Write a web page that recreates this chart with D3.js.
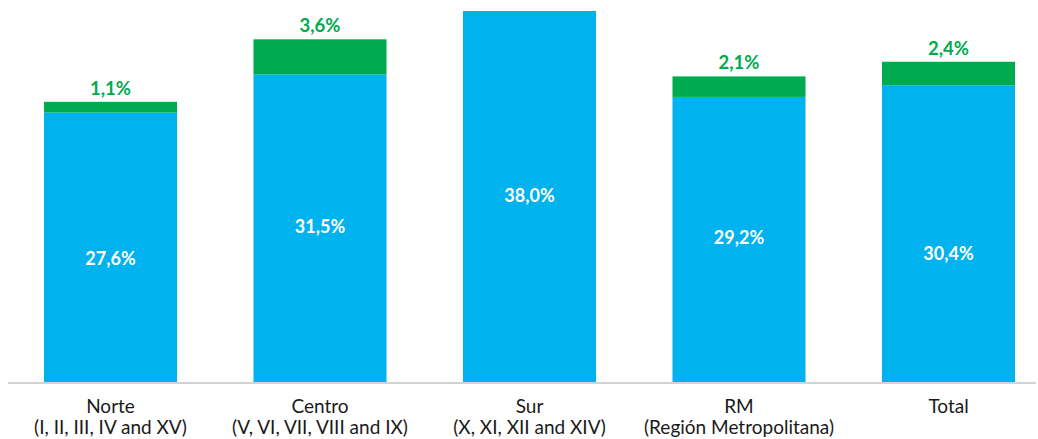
<!DOCTYPE html>
<html>
<head>
<meta charset="utf-8">
<script src="https://cdn.jsdelivr.net/npm/d3@7/dist/d3.min.js"></script>
<style>
  html, body { margin: 0; padding: 0; background: #fff; }
  svg { display: block; }
</style>
</head>
<body>
<svg id="chart" width="1038" height="439"></svg>
<script>
// ---- data ----
const categories = ["Norte", "Centro", "Sur", "RM", "Total"];
const subLabels = ["(I, II, III, IV and XV)", "(V, VI, VII, VIII and IX)", "(X, XI, XII and XIV)", "(Región Metropolitana)", ""];
const baseValues = [27.6, 31.5, 38.0, 29.2, 30.4];
const extraValues = [1.1, 3.6, 0, 2.1, 2.4];

// ---- layout ----
const W = 1038, H = 439;
const svg = d3.select("#chart");
const baseline = 382;
const blue = "#00B2EE", green = "#00AA4E";
const font = "Lato, 'Open Sans', sans-serif";

const x = d3.scaleBand()
  .domain(categories)
  .range([5.75, 1053.25])
  .paddingInner(0.365)
  .paddingOuter(0.1825);

const y = d3.scaleLinear().domain([0, 38]).range([baseline, 11]);

const rows = categories.map((c, i) => ({
  cat: c, sub: subLabels[i], base: baseValues[i], extra: extraValues[i]
}));

// label nudges (layout only) to follow reference placement
const labelNudge = { Norte: 12.5, Total: 21 };

// blue bars
svg.selectAll("rect.base").data(rows).join("rect")
  .attr("class", "base")
  .attr("x", d => x(d.cat))
  .attr("width", x.bandwidth())
  .attr("y", d => y(d.base))
  .attr("height", d => y(0) - y(d.base))
  .attr("fill", blue);

// green bars
svg.selectAll("rect.extra").data(rows.filter(d => d.extra > 0)).join("rect")
  .attr("class", "extra")
  .attr("x", d => x(d.cat))
  .attr("width", x.bandwidth())
  .attr("y", d => y(d.base + d.extra))
  .attr("height", d => y(d.base) - y(d.base + d.extra))
  .attr("fill", green);

const fmt = v => v.toFixed(1).replace(".", ",") + "%";

// blue labels
svg.selectAll("text.base").data(rows).join("text")
  .attr("class", "base")
  .attr("x", d => x(d.cat) + x.bandwidth() / 2)
  .attr("y", d => (y(d.base) + y(0)) / 2 - 2 + (labelNudge[d.cat] || 0))
  .attr("text-anchor", "middle")
  .attr("dominant-baseline", "central")
  .attr("fill", "#fff")
  .attr("font-family", font)
  .attr("font-weight", "bold")
  .attr("font-size", 18)
  .text(d => fmt(d.base));

// green labels
svg.selectAll("text.extra").data(rows.filter(d => d.extra > 0)).join("text")
  .attr("class", "extra")
  .attr("x", d => x(d.cat) + x.bandwidth() / 2)
  .attr("y", d => y(d.base + d.extra) - 7)
  .attr("text-anchor", "middle")
  .attr("fill", green)
  .attr("font-family", font)
  .attr("font-weight", "bold")
  .attr("font-size", 18.5)
  .text(d => fmt(d.extra));

// axis line
const axis = svg.append("g").attr("transform", `translate(0,${baseline + 1})`)
  .call(d3.axisBottom(x).tickSize(0).tickFormat(""));
axis.select(".domain").attr("d", "M8,0H1036").attr("stroke", "#c4c4c4").attr("stroke-width", 1.5);

// category labels
const lbl = svg.selectAll("text.cat").data(rows).join("text")
  .attr("class", "cat")
  .attr("text-anchor", "middle")
  .attr("font-family", font)
  .attr("font-size", 19)
  .attr("fill", "#1a1a1a");
lbl.append("tspan")
  .attr("x", d => x(d.cat) + x.bandwidth() / 2)
  .attr("y", 413)
  .text(d => d.cat);
lbl.append("tspan")
  .attr("x", d => x(d.cat) + x.bandwidth() / 2)
  .attr("y", 434)
  .text(d => d.sub);
</script>
</body>
</html>
